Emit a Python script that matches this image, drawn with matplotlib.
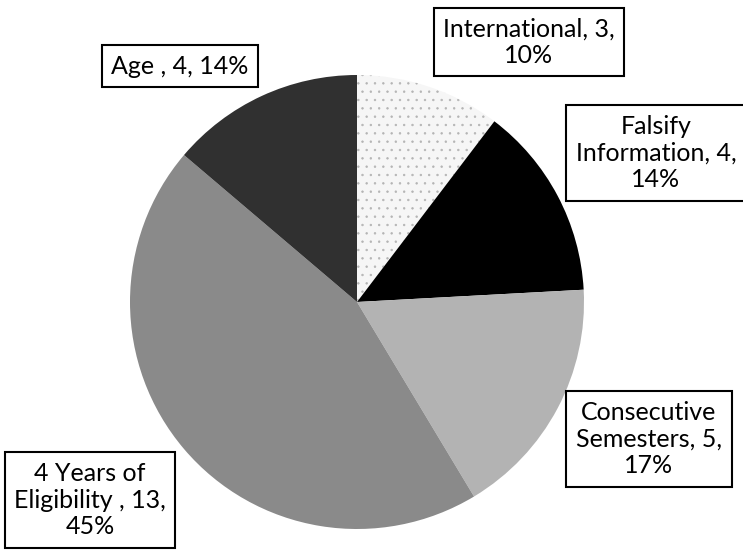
import matplotlib.pyplot as plt
import numpy as np

# Violation categories and counts
categories = ['International', 'Falsify\nInformation', 'Consecutive\nSemesters',
              '4 Years of\nEligibility ', 'Age ']
counts = [3, 4, 5, 13, 4]
pct_breaks = ['\n', '\n', '\n', '\n', ' ']

colors = ['#f6f6f6', '#000000', '#b3b3b3', '#8a8a8a', '#303030']

plt.rcParams['font.family'] = ['Lato', 'DejaVu Sans']
plt.rcParams['hatch.color'] = '#b4b4b4'
plt.rcParams['hatch.linewidth'] = 0.5

W, H = 743, 554
fig = plt.figure(figsize=(W / 100, H / 100), dpi=100)
ax = fig.add_axes([0, 0, 1, 1])

# pie laid out in pixel units
cx, cy, r = 357, H - 302, 227
wedges, _ = ax.pie(counts, colors=colors, startangle=90, counterclock=False,
                   center=(cx, cy), radius=r,
                   wedgeprops=dict(linewidth=0, edgecolor='none'))
wedges[0].set_hatch('..')
wedges[0].set_edgecolor('#b4b4b4')
wedges[0].set_linewidth(0)

ax.set_xlim(0, W)
ax.set_ylim(0, H)
ax.set_aspect('equal')
ax.axis('off')

total = sum(counts)
label_pos = [(529, 42), (656, 153), (649, 439), (90, 500), (180, 66)]
for name, n, brk, (px, py) in zip(categories, counts, pct_breaks, label_pos):
    pct = round(n / total * 100)
    txt = f'{name}, {n},{brk}{pct}%'
    ax.text(px, H - py, txt, ha='center', va='center', multialignment='center',
            fontsize=18, linespacing=1.2, color='black',
            bbox=dict(boxstyle='square,pad=0.38', fc='white', ec='black', lw=1.5))

fig.savefig('out.png', dpi=100)
